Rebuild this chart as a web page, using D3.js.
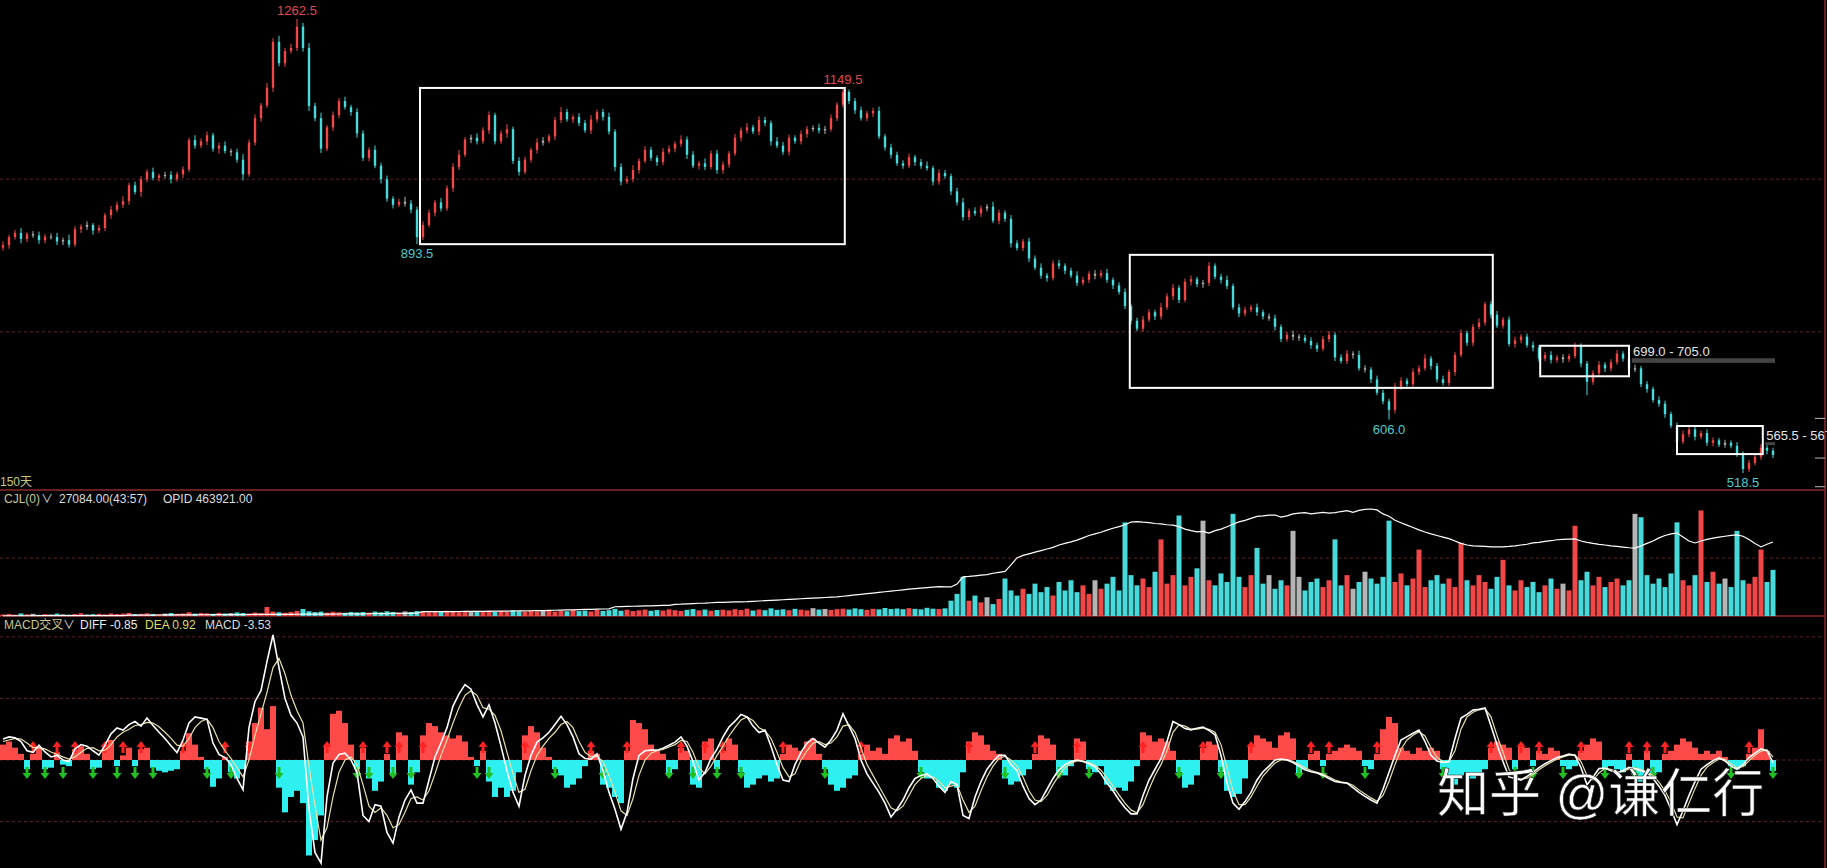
<!DOCTYPE html>
<html>
<head>
<meta charset="utf-8">
<script src="https://cdn.jsdelivr.net/npm/d3@7"></script>
<style>
  html, body { margin: 0; padding: 0; background: #000; overflow: hidden; }
  svg { display: block; }
  text { font-family: "Liberation Sans", "Noto Sans CJK SC", sans-serif; }
</style>
</head>
<body>
<div id="chart"></div>
<script>
// ---- price bars (close; open = previous close) ----
var firstOpen = 888;
var closes = [
  892,905,912,902,910,908,900,906,905,898,
  900,893,918,922,925,916,920,941,950,958,
  964,990,979,1000,1012,1002,1006,1007,1000,1008,
  1016,1064,1055,1062,1072,1050,1055,1046,1044,1032,
  1008,1060,1100,1121,1150,1225,1190,1210,1215,1250,
  1215,1120,1100,1050,1085,1105,1128,1118,1110,1075,
  1035,1048,1022,1000,968,958,963,960,950,905,
  925,945,962,952,985,1020,1040,1065,1068,1062,
  1080,1105,1062,1075,1082,1030,1012,1032,1048,1060,
  1063,1070,1097,1110,1098,1102,1092,1080,1098,1110,
  1102,1078,1020,996,1000,1015,1030,1048,1035,1028,
  1045,1050,1058,1065,1040,1022,1026,1020,1042,1015,
  1024,1042,1068,1080,1085,1078,1097,1092,1062,1055,
  1045,1068,1062,1074,1082,1084,1080,1082,1100,1122,
  1143,1128,1113,1100,1108,1112,1070,1052,1040,1026,
  1022,1036,1028,1022,1018,996,1010,1005,980,962,
  938,948,944,952,955,932,945,935,895,887,
  898,870,855,842,838,862,858,850,842,830,
  835,845,842,846,835,826,815,792,768,755,
  770,782,775,790,808,822,802,832,836,828,
  830,858,840,835,825,790,780,786,790,782,
  775,772,758,738,745,742,740,735,728,722,
  738,745,708,702,714,712,690,688,672,650,
  636,622,660,670,664,684,690,706,694,672,
  666,684,712,748,732,758,765,795,778,760,
  770,730,736,742,728,724,706,712,704,708,
  705,710,726,698,668,682,696,690,700,714,
  706,688,690,664,656,638,632,615,596,570,
  582,590,578,584,568,572,565,568,563,550,
  525,535,545,560,555,548
];
var upperWick = [
  6,4,5,8,3,5,6,4,5,7, 4,9,5,4,6,3,5,4,6,5, 8,4,6,5,4,7,3,5,6,4,
  5,4,8,5,6,4,5,7,4,6, 9,5,6,4,8,6,10,5,7,12.5, 6,8,5,9,4,6,5,7,4,6,
  5,4,7,5,6,4,5,8,6,5, 6,5,4,7,5,6,8,4,5,7, 5,6,4,5,8,4,6,5,4,7,
  6,4,5,8,5,4,6,5,7,4, 5,7,4,6,5,8,4,6,5,4, 6,5,4,7,5,6,4,8,5,6,
  5,4,6,5,7,4,6,5,4,7, 6,5,4,6,5,4,7,5,6,4, 6.5,4,5,6,4,5,7,4,6,5,
  5,6,4,5,7,4,6,5,4,6, 7,4,6,5,4,8,5,4,6,5, 4,6,5,7,4,5,6,4,5,7,
  5,4,6,5,7,4,5,6,4,5, 6,5,4,7,5,6,4,5,6,4, 5,6,4,5,7,4,6,5,4,6,
  4,5,6,4,5,7,4,5,6,4, 5,6,4,5,6,4,7,5,4,6, 5,4,6,5,4,6,5,7,4,5,
  6,4,5,6,4,5,7,4,5,6, 4,5,6,4,5,6,4,5,6,4, 5,4,6,5,4,5,6,4,5,6,
  4,5,6,4,5,4,6,5,4,5, 6,4,5,4,6,5,4,5,4,6, 4,5,4,6,4,5
];
var lowerWick = [
  5,6,4,7,5,4,6,5,4,6, 6,5,4,6,5,7,4,5,6,4, 5,6,4,8,5,4,6,5,7,4,
  6,4,5,4,6,5,8,4,6,5, 10,4,5,6,4,7,5,6,4,5, 6,8,5,7,4,6,5,4,6,7,
  5,6,4,7,5,6,4,5,6,11.5, 5,4,6,5,4,6,5,4,6,5, 4,6,5,4,7,5,6,4,5,6,
  5,4,6,5,4,6,5,4,6,5, 6,5,7,6,4,5,6,4,5,6, 5,4,6,5,7,4,6,5,4,6,
  6,5,4,6,5,4,6,5,7,4, 5,6,4,5,6,4,5,6,4,5, 4,5,6,4,5,6,4,5,6,4,
  5,4,6,5,4,6,5,4,6,5, 6,5,4,6,5,4,6,5,7,4, 5,6,4,5,6,4,5,6,4,5,
  4,5,6,4,5,6,4,5,6,4, 5,4,6,5,4,6,5,4,6,5, 6,5,4,6,5,4,6,5,4,6,
  5,4,6,5,4,6,5,4,6,5, 4,5,6,4,5,6,4,5,6,4, 5,16,6,5,4,6,5,4,6,5,
  4,5,6,4,5,6,4,5,6,4, 5,4,6,5,4,6,5,4,6,5, 6,5,4,6,22,5,4,6,5,4,
  5,6,4,5,6,4,5,6,4,5, 4,5,6,4,5,6,4,5,4,5, 6.5,5,4,5,6,5
];

// ---- CJL: volume and open interest ----
var volume = [
  900,1200,800,1500,1000,1300,700,1100,900,1400,
  1000,800,1200,1600,900,1100,1300,1000,1500,1200,
  1400,1800,1100,1300,1600,1200,1000,1400,1700,1300,
  1500,2200,1400,1800,1600,1300,1900,1500,1700,2100,
  1800,1500,2000,1700,5300,2600,2200,1900,2400,3000,
  4100,2800,2300,2600,2000,2500,2200,1900,2400,2100,
  2300,2000,2600,2200,2800,2400,2000,2700,2300,2900,
  2600,2200,2900,2400,3100,2700,2300,2800,2500,3000,
  2700,3200,2400,2900,2600,3400,2800,2500,3100,2700,
  2900,3300,2600,3000,2800,3500,2900,3200,2700,3600,
  3000,3400,4200,3100,3700,2900,3300,3800,3100,3500,
  3200,3900,3400,3000,3600,4100,3300,3800,3100,3500,
  3700,3300,4000,3500,4300,3200,3800,3400,4500,3600,
  3900,3400,4200,3700,3300,4600,3800,4100,3500,4000,
  4300,3800,4500,4000,3600,4200,3900,4700,4100,4400,
  4000,4600,4200,3900,4800,4300,4100,4500,9000,13000,
  23000,9000,12000,8000,11000,7000,10000,22000,15000,12000,
  16000,13000,19000,14000,17000,12000,20000,15000,21000,14000,
  18000,13000,21000,16000,19000,23000,15000,55000,24000,18000,
  22000,17000,26000,45000,19000,24000,59000,18000,23000,28000,
  56000,21000,18000,25000,20000,60000,23000,17000,24000,40000,
  19000,24000,16000,21000,18000,50000,23000,15000,20000,22000,
  17000,21000,45000,18000,24000,16000,20000,26000,22000,19000,
  23000,56000,20000,25000,18000,22000,39000,17000,21000,24000,
  19000,22000,17000,43000,21000,18000,24000,20000,16000,23000,
  33000,18000,15000,21000,17000,20000,14000,18000,22000,16000,
  19000,15000,53000,21000,26000,18000,23000,17000,20000,22000,
  18000,21000,60000,58000,24000,19000,22000,17000,25000,55000,
  21000,18000,24000,62000,20000,26000,19000,22000,17000,50000,
  21000,19000,23000,39000,20000,27084
];
var openInterest = [
  1500,1500,1600,1600,1700,1700,1800,1800,1900,1900,
  2000,2100,2100,2200,2300,2300,2400,2500,2500,2600,
  2700,5500,5600,5800,6000,6100,6300,6500,6700,6900,
  7100,7300,7500,7700,7900,8100,8300,8500,8700,8900,
  9100,9300,9600,9800,10000,10200,10400,10600,10800,11000,
  11200,11400,11600,11800,12000,12300,12600,12900,13200,13500,
  13800,14200,14600,15000,15500,16000,16500,17000,17500,18000,
  27000,27200,27400,27600,27800,28000,28200,28400,28600,28800,
  29000,29500,30000,30500,31000,31500,32000,32500,33000,33500,
  34000,35000,36000,37000,38000,39000,40000,41000,42000,43000,
  44000,45000,58000,59000,60000,61000,62000,63000,64000,65000,
  66000,67000,73000,74000,76000,78000,80000,81000,83000,85000,
  86000,87000,88000,89000,90000,92000,94000,96000,98000,100000,
  102000,104000,106000,108000,110000,112000,114000,116000,118000,120000,
  124000,128000,132000,136000,140000,144000,148000,152000,156000,160000,
  164000,168000,172000,175000,178000,181000,184000,183000,182000,200000,
  245000,248000,252000,256000,260000,268000,274000,280000,320000,364000,
  380000,390000,400000,410000,420000,430000,445000,455000,465000,476000,
  490000,505000,515000,525000,538000,550000,560000,572000,589000,592000,
  588000,585000,580000,578000,572000,570000,560000,545000,535000,528000,
  530000,520000,535000,545000,560000,575000,590000,600000,612000,625000,
  628000,632000,633000,620000,628000,640000,645000,648000,640000,645000,
  650000,645000,648000,655000,660000,650000,662000,668000,671000,665000,
  640000,625000,600000,585000,570000,555000,540000,527000,515000,505000,
  495000,485000,470000,455000,445000,440000,438000,436000,434000,433000,
  433000,436000,440000,445000,450000,458000,462000,468000,472000,478000,
  480000,482000,483000,470000,462000,455000,449000,445000,440000,436000,
  432000,428000,426000,440000,455000,470000,490000,505000,515000,520000,
  495000,470000,458000,470000,480000,488000,495000,500000,505000,508000,
  500000,480000,455000,433000,450000,463921
];

// ---- MACD ----
var diff = [
  6.8,7.5,7.2,6,3,2.5,4.8,2.6,1,1.5,
  0,-0.5,3.6,5,4.5,3,1.6,4.8,8.5,10.4,
  9.7,11.5,12.5,11,13.6,11.2,9,7,4.6,2.4,
  6.5,12,14,13.6,13.2,5.5,1.8,0.8,-1.5,-6,
  -9.7,10.5,19,22.5,32,40.6,30,20,14.5,12,
  7.5,-16,-30,-33.5,-12,-1,1.8,2.2,0,-4,
  -18,-20,-14.5,-15,-23.5,-27,-18.5,-13,-9.7,-14,
  -14,-6.5,1,5.5,10.5,17.5,21.5,24.5,23,18,
  14,17.9,12,4.5,-3.5,-10.5,-15,-5,1.5,5.8,
  7.2,9,11.5,14.2,11.5,7.5,2,0.5,0.3,2,
  -3.5,-10.5,-16,-22.5,-17,-6,1.5,3,3.2,3.2,
  3.8,4.8,5.8,7.5,4.5,-0.5,-6.5,-4,0.5,3.5,
  7.5,10.7,12.6,14.8,14,11,8.9,9.7,4.5,-1.5,
  -6.5,-7,-1.5,2.5,5.5,7,5.5,4.2,6.5,9.7,
  15,11,7,0,-4.5,-7.5,-10.5,-14,-18.5,-16,
  -13,-9,-6,-5,-4.5,-6,-8.5,-10.5,-7,-8,
  -18,-19,-12,-7,-3,-0.5,1.5,1.5,-1.5,-3.5,
  -8.5,-12.5,-14.5,-13,-9.5,-6,-3.2,-1.5,-0.5,0,
  -0.5,-1.2,-2.2,-4.5,-7.5,-10,-13,-15.5,-17.5,-17.5,
  -11.5,-6.5,-3,0.5,6,12.5,11.5,10.2,9.8,10.3,
  10.7,9.6,8.2,1.5,-7.5,-14,-16,-13.5,-10.5,-6.5,
  -3.8,-2,0,0.3,0,-0.8,-2,-3.2,-3.8,-4.2,
  -5,-6,-7,-7.3,-7.5,-9,-10.5,-11.8,-13,-14,
  -9.5,-4,1.5,6.5,7.6,8.7,9.7,6,1.5,-0.3,
  -0.8,-0.5,7,13.6,14.8,16.2,16.5,16.9,11,5,
  -0.5,-5.5,-6,-6.5,-5.3,-4,-2.5,-1.2,-0.2,0.8,
  1.3,1.9,1.5,-2.5,-8,-5.5,-2.8,-2.6,-3.5,-4.2,
  -3.4,-2.4,-2.8,-3.5,-4.1,-6,-8.5,-11.5,-16,-21,
  -16.5,-11.5,-7,-3,-1.5,-0.2,0.7,-0.3,-2,-3,
  -1.5,0.8,2.2,3.6,3,-0.85
];
var dea = [
  6,6.5,7,6.8,5.5,4,4,3.6,2.6,1.8,
  1,0.3,1,2.5,3.8,4,3,3.2,5,7.5,
  9,10,11.2,11.5,12.2,12,10.8,9,7,4.8,
  4.5,7,10.5,12.5,13.3,10.5,6,3,0.5,-2.5,
  -5.5,0,8,15,22,30,33,28,21,16,
  12,-2,-15,-26,-22,-12,-4,0,1,-1.5,
  -8,-15,-17,-15.5,-18,-22,-21,-17,-12.5,-12,
  -13,-10,-4.5,1.5,6.5,12,17,21,22.5,21,
  17,16.5,14.5,9.5,2.5,-4.5,-10.5,-9.5,-3.5,1.5,
  4.5,7,9,11.5,12.5,10.5,6,2.5,1,1.2,
  -0.5,-5,-10.5,-16.5,-18,-12.5,-5,0,2.2,3,
  3.4,4.2,5,6.4,6,2.5,-2.5,-4.5,-2,1.5,
  4.5,7.8,10.5,13,14,12.8,10.5,9.5,7,2.5,
  -2.5,-5.5,-4.5,0,3,5.5,6,5,5.5,7.5,
  11,11.5,9,4,-1.5,-5,-8.5,-12,-15.5,-16.5,
  -15,-11.5,-8,-6,-5,-5.5,-7,-9,-8.5,-8,
  -13,-17,-15,-10,-5.5,-2,0.5,1.2,0,-2,
  -5.5,-10,-13,-13.5,-11.5,-8,-5,-2.5,-1,-0.3,
  -0.3,-0.8,-1.7,-3.3,-5.8,-8.5,-11.3,-14,-16.2,-17.2,
  -14.5,-9.5,-5,-1.5,3,9,11.5,11,10,10,
  10.4,10,9,5,-2.5,-10,-14.5,-14.5,-12,-8.5,
  -5.2,-3,-1,0,0.1,-0.4,-1.4,-2.5,-3.4,-4,
  -4.6,-5.5,-6.5,-7.1,-7.4,-8.2,-9.7,-11,-12.3,-13.4,
  -11.5,-7,-1.5,3.5,6.5,8,9.2,7.8,4,0.8,
  -0.5,-0.6,3,10,14,15.5,16.3,16.7,14,8,
  2.5,-3,-5.7,-6.2,-5.9,-4.7,-3.2,-1.9,-0.7,0.3,
  1,1.6,1.7,-0.5,-5,-6.5,-4.2,-2.7,-3,-3.8,
  -3.8,-2.9,-2.6,-3.1,-3.8,-5,-7.2,-10,-13.7,-18.5,
  -18.8,-14,-9.3,-5,-2.3,-0.9,0.3,0.2,-1.2,-2.5,
  -2.2,-0.3,1.5,2.9,3.3,0.92
];
var macdHist = [
  5,6,4,2,-3,2,4,-3,-2.5,2.5,
  -1.5,-2,3.5,4.5,2,-3,-2.5,4,6.5,-2,
  1.5,4,-2,3.5,4,-2.5,-3.5,-4,-3.5,-3,
  3,8.7,5,1,-3,-8.7,-6,1,-4,-6,
  -3,6,12,17,10,17.5,-9,-17,-12,-10,
  -14,-31,-26,-18,5,15,16,12,5,-3,
  4,-6,-10,-7,2,-5,9,8,-8,-4,
  8,12,11,9,8,7,8,6,1,-2,
  3,-7,-12,-9,-12,-10,-4,8,11,9,
  4,1,-3,-5,-9,-8,-6,-2,3,2,
  -8,-9,-12,-14,3,13,12,10,5,3,
  2,-5,-3,4,3,-8,-9,6,7,-3,
  3,7,5,-4,-9,-8,-6,-5,-7,-6,
  2,5,4,3,6,7,2,-3,-8,-10,
  -9,-6,-5,2,5,3,4,2,7,8,
  6,7,3,-4,-6,-6,-9,-10,-8,-9,
  -4,6,9,8,5,3,2,-6,-8,-7,
  -5,-3,2,8,7,5,-4,-5,-2,7,
  6,-3,-4,-2,-8,-10,-9,-10,-7,-2,
  9,8,6,7,6,3,-4,-9,-8,-5,
  4,6,5,-4,-10,-12,-11,-6,5,8,
  7,6,4,8,9,7,-5,-3,2,3,
  -2,2,3,4,5,4,3,-2,-3,2,
  10,14,12,4,3,2,4,3,4,3,
  -3,-6,-8,-5,-4,-6,-5,-3,4,6,
  5,4,-3,5,4,-2,3,2,4,3,
  -2,-3,-2,3,5,7,6,-3,-2,-3,
  -4,2,-5,-7,3,-6,-4,2,3,5,
  7,6,4,2,3,2,3,1,-2,-3,
  -2,2,4,10,3,-3.53
];

// ---- annotations ----
var peakMarks = [
  { i: 49, text: "1262.5", kind: "high" },
  { i: 69, text: "893.5", kind: "low" },
  { i: 140, text: "1149.5", kind: "high" },
  { i: 231, text: "606.0", kind: "low" },
  { i: 290, text: "518.5", kind: "low" }
];
var boxes = [
  { i0: 69.5, i1: 140.3, top: 1149.5, bottom: 893.5 },
  { i0: 187.8, i1: 248.3, top: 876, bottom: 658 },
  { i0: 256.2, i1: 271, top: 727, bottom: 677 },
  { i0: 279, i1: 293.3, top: 595.5, bottom: 549.5 }
];
var zones = [
  { i0: 271.5, lo: 699.0, hi: 705.0, text: "699.0 - 705.0" },
  { i0: 293.7, lo: 565.5, hi: 567.5, text: "565.5 - 567.5" }
];
var priceGrid = [750, 1000];
var rightTicks = [608, 543, 496];
var macdGrid = [40, 20, 0, -20];

var W = 1827, H = 868;
var N = closes.length;
var RED = "#f04848", CYAN = "#48dada", GRAY = "#b4b4b4";
var PANEL = "#8e2a2a", GRID = "#5e2222";

var x = d3.scaleLinear().domain([0, N - 1]).range([3, 3 + 6 * (N - 1)]);
var yPrice = d3.scaleLinear().domain([518.5, 1262.5]).range([473, 19]);
var yVol = d3.scaleLinear().domain([0, 74000]).range([616, 490]);
var yOi = d3.scaleLinear().domain([0, 790000]).range([616, 490]);
var yMacd = d3.scaleLinear().domain([-40, 40]).range([883.2, 636.8]);

var bars = closes.map(function(c, i) {
  var o = i === 0 ? firstOpen : closes[i - 1];
  return {
    i: i, o: o, c: c,
    h: Math.max(o, c) + upperWick[i],
    l: Math.min(o, c) - lowerWick[i]
  };
});
function barColor(d) {
  if (d.c - d.o > 3) return RED;
  if (d.o - d.c > 3) return CYAN;
  return GRAY;
}

var svg = d3.select("#chart").append("svg")
  .attr("width", W).attr("height", H)
  .style("background", "#000");

// grid lines
var grid = svg.append("g").attr("stroke", GRID).attr("stroke-dasharray", "3,3").attr("stroke-width", 1);
priceGrid.forEach(function(p) {
  grid.append("line").attr("x1", 0).attr("x2", 1824).attr("y1", yPrice(p)).attr("y2", yPrice(p));
});
grid.append("line").attr("x1", 0).attr("x2", 1824).attr("y1", yVol(34000)).attr("y2", yVol(34000));
macdGrid.forEach(function(v) {
  grid.append("line").attr("x1", 0).attr("x2", 1824).attr("y1", yMacd(v)).attr("y2", yMacd(v));
});

// panel borders
svg.append("line").attr("x1", 0).attr("x2", 1825).attr("y1", 490).attr("y2", 490).attr("stroke", PANEL).attr("stroke-width", 1.5);
svg.append("line").attr("x1", 0).attr("x2", 1825).attr("y1", 616).attr("y2", 616).attr("stroke", PANEL).attr("stroke-width", 1.5);
svg.append("line").attr("x1", 1825).attr("x2", 1825).attr("y1", 0).attr("y2", H).attr("stroke", PANEL).attr("stroke-width", 1.5);
svg.selectAll(".rtick").data(rightTicks).enter().append("line")
  .attr("x1", 1815).attr("x2", 1825)
  .attr("y1", function(d) { return yPrice(d); }).attr("y2", function(d) { return yPrice(d); })
  .attr("stroke", "#bbb").attr("stroke-width", 1);

// zones (grey bands with labels)
zones.forEach(function(z) {
  svg.append("rect")
    .attr("x", x(z.i0)).attr("y", yPrice(z.hi) - 1)
    .attr("width", x(N - 1) - x(z.i0) + 2)
    .attr("height", Math.max(3, yPrice(z.lo) - yPrice(z.hi) + 1))
    .attr("fill", "#444");
  svg.append("text")
    .attr("x", x(z.i0) + 1).attr("y", yPrice(z.hi) - 3)
    .attr("fill", "#e6e6e6").attr("font-size", 13)
    .text(z.text);
});

// candles
var cg = svg.append("g");
cg.selectAll("line").data(bars).enter().append("line")
  .attr("x1", function(d) { return x(d.i); }).attr("x2", function(d) { return x(d.i); })
  .attr("y1", function(d) { return yPrice(d.h); }).attr("y2", function(d) { return yPrice(d.l); })
  .attr("stroke", barColor).attr("stroke-width", 1);
cg.selectAll("rect").data(bars).enter().append("rect")
  .attr("x", function(d) { return x(d.i) - 1.2; })
  .attr("width", 2.4)
  .attr("y", function(d) { return yPrice(Math.max(d.o, d.c)); })
  .attr("height", function(d) { return Math.max(1, Math.abs(yPrice(d.o) - yPrice(d.c))); })
  .attr("fill", barColor);

// boxes
svg.selectAll(".box").data(boxes).enter().append("rect")
  .attr("x", function(d) { return x(d.i0); })
  .attr("y", function(d) { return yPrice(d.top); })
  .attr("width", function(d) { return x(d.i1) - x(d.i0); })
  .attr("height", function(d) { return yPrice(d.bottom) - yPrice(d.top); })
  .attr("fill", "none").attr("stroke", "#fff").attr("stroke-width", 2);

// high / low labels
peakMarks.forEach(function(m) {
  var b = bars[m.i];
  svg.append("text")
    .attr("x", x(m.i)).attr("text-anchor", "middle")
    .attr("y", m.kind === "high" ? yPrice(b.h) - 4 : yPrice(b.l) + 14)
    .attr("fill", m.kind === "high" ? "#e04a4a" : "#4ccccc")
    .attr("font-size", 13)
    .text(m.text);
});

svg.append("text").attr("x", 0).attr("y", 486).attr("fill", "#c8c87c").attr("font-size", 12).text("150天");

// volume panel
svg.append("g").selectAll("rect").data(bars).enter().append("rect")
  .attr("x", function(d) { return x(d.i) - 2.5; })
  .attr("width", 5)
  .attr("y", function(d) { return yVol(volume[d.i]); })
  .attr("height", function(d) { return 616 - yVol(volume[d.i]); })
  .attr("fill", barColor);
svg.append("path").datum(openInterest)
  .attr("d", d3.line().x(function(d, i) { return x(i); }).y(function(d) { return yOi(d); }))
  .attr("fill", "none").attr("stroke", "#fff").attr("stroke-width", 1.2);

var t1 = svg.append("text").attr("y", 503).attr("font-size", 12);
t1.append("tspan").attr("x", 4).attr("fill", "#c8c890").text("CJL(0)");
t1.append("tspan").attr("x", 41).attr("fill", "#ddd").text("\u2228");
t1.append("tspan").attr("x", 59).attr("fill", "#ddd").text("27084.00(43:57)");
t1.append("tspan").attr("x", 163).attr("fill", "#ddd").text("OPID 463921.00");

// MACD panel
svg.append("g").selectAll("rect").data(macdHist).enter().append("rect")
  .attr("x", function(d, i) { return x(i) - 3; })
  .attr("width", 6)
  .attr("y", function(d) { return yMacd(Math.max(0, d)); })
  .attr("height", function(d) { return Math.abs(yMacd(d) - yMacd(0)); })
  .attr("fill", function(d) { return d >= 0 ? "#ff4a4a" : "#2ef0f0"; });

// cross arrows
var crosses = [];
macdHist.forEach(function(v, i) {
  if (i === 0) return;
  var p = macdHist[i - 1];
  if (p <= 0 && v > 0) crosses.push({ i: i, up: true });
  if (p >= 0 && v < 0) crosses.push({ i: i, up: false });
});
svg.append("g").selectAll("path").data(crosses).enter().append("path")
  .attr("transform", function(d) {
    return d.up ? "translate(" + x(d.i) + "," + (yMacd(0) - 13) + ")"
                : "translate(" + x(d.i) + "," + (yMacd(0) + 13) + ") rotate(180)";
  })
  .attr("d", "M0,-6L4.5,0L1.5,0L1.5,6L-1.5,6L-1.5,0L-4.5,0Z")
  .attr("fill", function(d) { return d.up ? "#ff2222" : "#22c022"; });

var line = d3.line().x(function(d, i) { return x(i); }).y(function(d) { return yMacd(d); });
svg.append("path").datum(dea).attr("d", line)
  .attr("fill", "none").attr("stroke", "#e8e0a8").attr("stroke-width", 1.2);
svg.append("path").datum(diff).attr("d", line)
  .attr("fill", "none").attr("stroke", "#ffffff").attr("stroke-width", 1.6);

var t2 = svg.append("text").attr("y", 629).attr("font-size", 12);
t2.append("tspan").attr("x", 4).attr("fill", "#c8c890").text("MACD交叉");
t2.append("tspan").attr("x", 63).attr("fill", "#ddd").text("\u2228");
t2.append("tspan").attr("x", 80).attr("fill", "#eee").text("DIFF -0.85");
t2.append("tspan").attr("x", 145).attr("fill", "#dede6a").text("DEA 0.92");
t2.append("tspan").attr("x", 205).attr("fill", "#ddd").text("MACD -3.53");

// watermark
svg.append("text")
  .attr("x", 1437).attr("y", 812)
  .attr("font-family", "'Noto Sans CJK SC', sans-serif")
  .attr("font-size", 52)
  .attr("fill", "#fff")
  .attr("stroke", "#222").attr("stroke-width", 0.6)
  .text("知乎 @谦仁行");
</script>
</body>
</html>
